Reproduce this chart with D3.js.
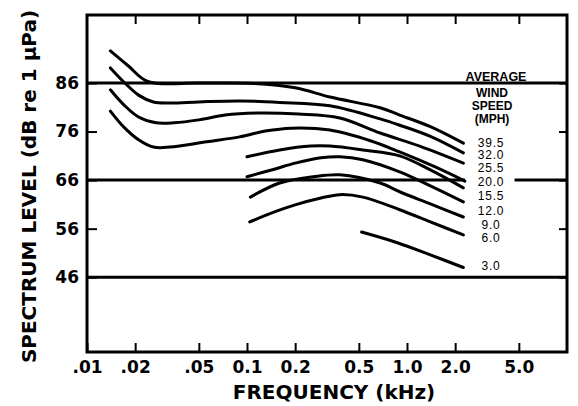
<!DOCTYPE html>
<html>
<head>
<meta charset="utf-8">
<script src="https://cdn.jsdelivr.net/npm/d3@7"></script>
<style>
  body { margin: 0; background: #fff; }
  svg { display: block; }
</style>
</head>
<body>
<div id="chart"></div>
<script>
(function (d3) {
  'use strict';

  // frequency (kHz) / spectrum level (dB re 1 uPa)
  const windSpeeds = ["39.5", "32.0", "25.5", "20.0", "15.5", "12.0", "9.0", "6.0", "3.0"];
  const curve395 = [[0.014, 92.6], [0.018, 89.6], [0.024, 86.3], [0.05, 86.0], [0.11, 85.9], [0.2, 85.0], [0.33, 83.1], [0.68, 80.9], [0.9, 79.4], [1.4, 77.0], [2.25, 73.6]];
  const curve320 = [[0.014, 89.1], [0.017, 86.2], [0.021, 83.5], [0.026, 82.1], [0.033, 81.9], [0.05, 82.1], [0.09, 82.3], [0.16, 82.0], [0.33, 81.3], [0.68, 78.6], [0.9, 77.3], [1.4, 75.0], [2.25, 71.6]];
  const curve255 = [[0.014, 84.6], [0.017, 81.5], [0.021, 79.0], [0.027, 77.8], [0.035, 77.8], [0.05, 78.4], [0.073, 79.4], [0.115, 79.8], [0.21, 79.6], [0.38, 78.8], [0.68, 75.7], [1.2, 73.0], [2.25, 69.5]];
  const curve200 = [[0.014, 80.2], [0.017, 76.9], [0.021, 74.3], [0.026, 72.8], [0.033, 72.8], [0.056, 73.9], [0.09, 74.9], [0.13, 76.1], [0.19, 76.7], [0.33, 76.3], [0.59, 74.1], [0.9, 71.8], [1.5, 68.7], [2.3, 65.8]];
  const curve155 = [[0.1, 70.8], [0.16, 72.2], [0.25, 73.0], [0.33, 73.0], [0.53, 72.2], [0.9, 71.0], [1.4, 68.1], [2.25, 64.4]];
  const curve120 = [[0.1, 66.7], [0.15, 68.3], [0.2, 69.5], [0.29, 70.6], [0.38, 70.8], [0.53, 70.2], [0.9, 67.7], [1.4, 64.8], [2.25, 61.5]];
  const curve090 = [[0.105, 62.5], [0.16, 65.4], [0.26, 66.7], [0.38, 67.1], [0.68, 65.4], [0.9, 63.6], [1.4, 61.1], [2.25, 58.4]];
  const curve060 = [[0.104, 57.4], [0.15, 59.5], [0.2, 60.9], [0.29, 62.3], [0.38, 63.0], [0.53, 62.5], [0.9, 59.9], [1.4, 57.4], [2.25, 54.7]];
  const curve030 = [[0.52, 55.3], [0.87, 53.1], [1.4, 50.6], [2.25, 48.0]];
  // level (dB) at which each wind speed label sits
  const labelLevels = [73.8, 71.2, 68.5, 65.6, 62.7, 59.6, 56.8, 54.1, 48.3];

  const xTicks = [0.01, 0.02, 0.05, 0.1, 0.2, 0.5, 1, 2, 5];
  const xTickLabels = [".01", ".02", ".05", "0.1", "0.2", "0.5", "1.0", "2.0", "5.0"];
  const yTicks = [86, 76, 66, 56, 46];
  const refLevels = [86, 66, 46];
  const gap66 = [2.3, 4.7];   // break in the 66 dB line for the "20.0" label
  const legendTitle = ["AVERAGE", "WIND", "SPEED", "(MPH)"];

  const series = [curve395, curve320, curve255, curve200, curve155, curve120, curve090, curve060, curve030];

  const width = 578, height = 406;
  const plot = { left: 87, right: 567, top: 15, bottom: 352 };

  const svg = d3.select("#chart").append("svg")
      .attr("width", width)
      .attr("height", height)
      .attr("viewBox", `0 0 ${width} ${height}`);

  const x = d3.scaleLog().domain([0.01, 10]).range([plot.left, plot.right]);
  const y = d3.scaleLinear().domain([30.6, 100]).range([plot.bottom, plot.top]);

  const axisFont = g => g
      .attr("font-family", "'DejaVu Sans', sans-serif")
      .attr("font-size", 17)
      .attr("font-weight", "bold")
      .call(g => g.select(".domain").remove())
      .call(g => g.selectAll(".tick line").attr("stroke", "#000").attr("stroke-width", 2))
      .call(g => g.selectAll(".tick text").attr("fill", "#000"));

  // axes, ticks pointing into the plot
  svg.append("g")
      .attr("transform", `translate(0,${plot.bottom})`)
      .call(d3.axisBottom(x).tickValues(xTicks).tickSize(-9).tickPadding(9)
          .tickFormat((d, i) => xTickLabels[i]))
      .call(axisFont);

  svg.append("g")
      .attr("transform", `translate(0,${plot.top})`)
      .call(d3.axisTop(x).tickValues(xTicks.slice(1)).tickSize(-9).tickFormat(""))
      .call(axisFont);

  svg.append("g")
      .attr("transform", `translate(${plot.left},0)`)
      .call(d3.axisLeft(y).tickValues(yTicks).tickSize(-10).tickPadding(8))
      .call(axisFont);

  svg.append("g")
      .attr("transform", `translate(${plot.right},0)`)
      .call(d3.axisRight(y).tickValues(yTicks).tickSize(-8).tickFormat(""))
      .call(axisFont);

  // reference levels
  const refs = svg.append("g")
      .attr("stroke", "#000")
      .attr("stroke-width", 3);
  refLevels.forEach(level => {
    const spans = level === 66 ? [[0.01, gap66[0]], [gap66[1], 10]] : [[0.01, 10]];
    spans.forEach(s => {
      refs.append("line")
          .attr("x1", x(s[0])).attr("x2", x(s[1]))
          .attr("y1", y(level)).attr("y2", y(level));
    });
  });

  // frame
  svg.append("rect")
      .attr("x", plot.left)
      .attr("y", plot.top)
      .attr("width", plot.right - plot.left)
      .attr("height", plot.bottom - plot.top)
      .attr("fill", "none")
      .attr("stroke", "#000")
      .attr("stroke-width", 3);

  const line = d3.line()
      .x(d => x(d[0]))
      .y(d => y(d[1]))
      .curve(d3.curveCatmullRom.alpha(0.5));

  svg.append("g")
      .selectAll("path")
      .data(series)
      .enter()
      .append("path")
      .attr("d", line)
      .attr("fill", "none")
      .attr("stroke", "#000")
      .attr("stroke-width", 3)
      .attr("stroke-linecap", "round")
      .attr("stroke-linejoin", "round");

  // wind speed legend
  const legend = svg.append("g")
      .attr("font-family", "'Liberation Sans', Arial, sans-serif")
      .attr("text-anchor", "middle")
      .attr("fill", "#000");

  legend.selectAll("text.head")
      .data(legendTitle)
      .enter()
      .append("text")
      .attr("class", "head")
      .attr("x", (d, i) => i === 0 ? 496 : 492)
      .attr("y", (d, i) => [81, 97, 110, 123][i])
      .attr("font-size", (d, i) => i === 0 ? 12.5 : 12)
      .attr("font-weight", "bold")
      .text(d => d);

  legend.selectAll("text.speed")
      .data(windSpeeds)
      .enter()
      .append("text")
      .attr("class", "speed")
      .attr("x", 491)
      .attr("y", (d, i) => y(labelLevels[i]))
      .attr("dy", "0.36em")
      .attr("font-size", 12)
      .attr("letter-spacing", 0.8)
      .text(d => d);

  // axis titles
  svg.append("text")
      .attr("transform", `translate(36,${(10 + 363) / 2}) rotate(-90)`)
      .attr("text-anchor", "middle")
      .attr("font-family", "'DejaVu Sans', sans-serif")
      .attr("font-size", 20)
      .attr("font-weight", "bold")
      .text("SPECTRUM LEVEL (dB re 1 \u03BCPa)");

  svg.append("text")
      .attr("x", 334)
      .attr("y", 399)
      .attr("text-anchor", "middle")
      .attr("font-family", "'DejaVu Sans', sans-serif")
      .attr("font-size", 20)
      .attr("font-weight", "bold")
      .text("FREQUENCY (kHz)");

}(d3));
</script>
</body>
</html>
